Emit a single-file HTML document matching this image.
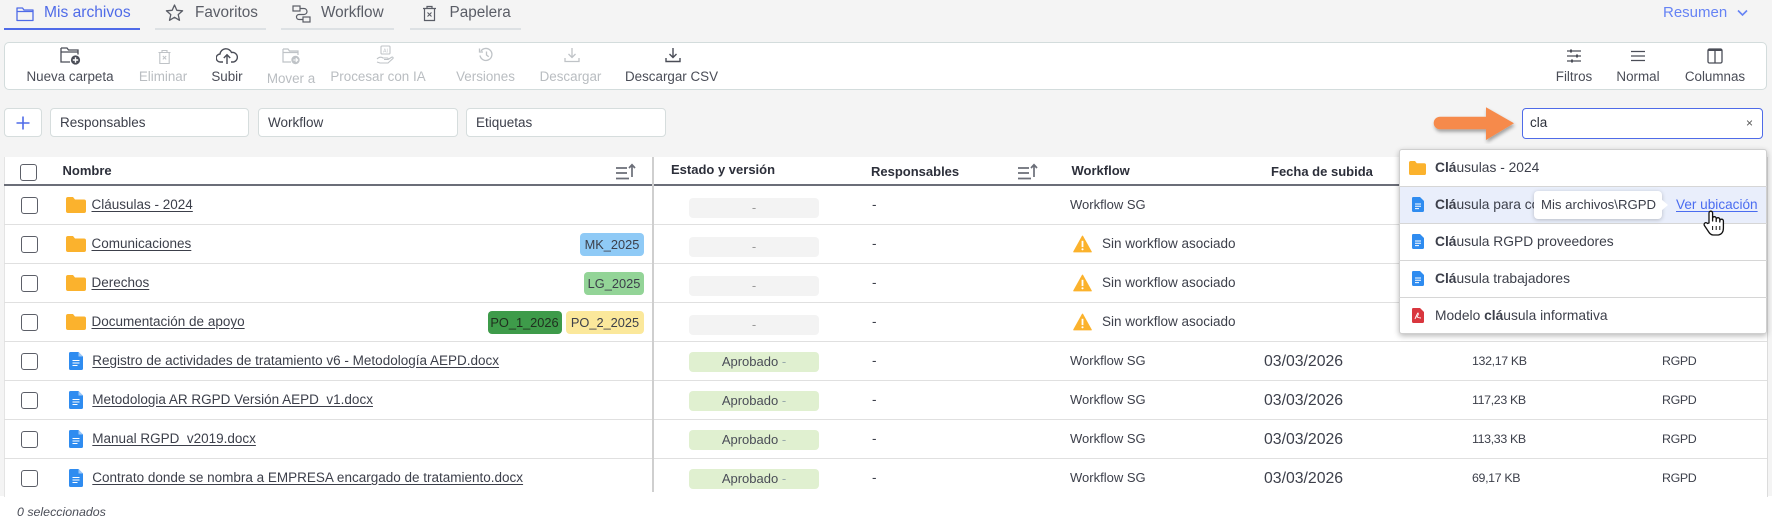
<!DOCTYPE html>
<html><head><meta charset="utf-8">
<style>
*{box-sizing:border-box;margin:0;padding:0}
body{width:1772px;height:531px;background:#f4f4f4;font-family:"Liberation Sans",Arial,sans-serif;color:#3c3f4a;position:relative;overflow:hidden}
.a{position:absolute;white-space:nowrap}
.t{position:absolute;white-space:nowrap;line-height:20px;height:20px}
.tab{font-size:15.3px;color:#5a5d66}
.ul{position:absolute;height:2px;background:#dde1e4;top:28px}
.lbl{position:absolute;width:140px;text-align:center;font-size:13.4px;line-height:20px;top:67px;color:#4a4d57}
.dis{color:#b9bdc1}
.fbox{position:absolute;top:108px;height:29px;background:#fff;border:1px solid #d6dddd;border-radius:4px;font-size:13.5px;line-height:27px;padding-left:9px;color:#3c3f4a}
.hd{font-weight:bold;font-size:13px;color:#2c2f3a}
.cb{position:absolute;width:17px;height:17px;border:1.5px solid #5c5f68;border-radius:3px;background:#fff}
.row{font-size:13.5px}
.lnk{text-decoration:underline;text-underline-offset:2px}
.hl{position:absolute;left:4px;width:1763px;height:1px;background:#e0e0e0}
.pill{position:absolute;left:689px;width:130px;height:20px;border-radius:4px;text-align:center;line-height:20px;font-size:13px}
.tag{position:absolute;height:23px;border-radius:4px;text-align:center;line-height:23px;font-size:12.8px;color:#3c3f4a}
.dd{position:absolute;left:1399px;width:368px;height:1px;background:#d6d6d6}
.di{font-size:13.8px;color:#3c3f4a}
.sz{font-size:12.4px;letter-spacing:-0.35px}
</style></head><body>

<!-- Tabs -->
<svg class="a" style="left:16px;top:6px" width="18" height="16" viewBox="0 0 18 16"><path d="M1 2 h5.5 l1.5 2 h9 v10.5 h-16z M1 5.5 h16" fill="none" stroke="#4f6be8" stroke-width="1.3" stroke-linejoin="round"/></svg>
<div class="t tab" style="left:44px;top:3px;font-size:15.6px;color:#4f6be8">Mis archivos</div>
<div class="ul" style="left:4px;width:136px;background:#4f6be8"></div>

<svg class="a" style="left:165px;top:4px" width="19" height="18" viewBox="0 0 19 18"><path d="M9.5 1 L11.8 6.3 L17.6 6.8 L13.2 10.6 L14.5 16.3 L9.5 13.3 L4.5 16.3 L5.8 10.6 L1.4 6.8 L7.2 6.3 Z" fill="none" stroke="#5a5d66" stroke-width="1.3" stroke-linejoin="round"/></svg>
<div class="t tab" style="left:195px;top:3px">Favoritos</div>
<div class="ul" style="left:155px;width:111px"></div>

<svg class="a" style="left:292px;top:5px" width="19" height="18" viewBox="0 0 19 18"><rect x="1" y="1" width="7" height="5" fill="none" stroke="#5a5d66" stroke-width="1.2"/><rect x="11" y="12" width="7" height="5" fill="none" stroke="#5a5d66" stroke-width="1.2"/><path d="M8 3.5 h4 a3 3 0 0 1 0 6 h-5 a2.5 2.5 0 0 0 0 5 h4" fill="none" stroke="#5a5d66" stroke-width="1.2"/></svg>
<div class="t tab" style="left:321px;top:3px">Workflow</div>
<div class="ul" style="left:281px;width:113px"></div>

<svg class="a" style="left:422px;top:5px" width="15" height="17" viewBox="0 0 15 17"><path d="M1 3.5 h13 M5 3.5 v-2 h5 v2 M2.5 3.5 v12 h10 v-12" fill="none" stroke="#5a5d66" stroke-width="1.2"/><path d="M5.5 7.5 l4 4 M9.5 7.5 l-4 4" stroke="#5a5d66" stroke-width="1.1"/></svg>
<div class="t tab" style="left:449.5px;top:3px">Papelera</div>
<div class="ul" style="left:410px;width:111px"></div>

<div class="t" style="left:1663px;top:3px;font-size:15px;color:#6683f4">Resumen</div>
<svg class="a" style="left:1737px;top:9px" width="11" height="8" viewBox="0 0 11 8"><path d="M1 1.5 L5.5 6 L10 1.5" fill="none" stroke="#6683f4" stroke-width="1.6"/></svg>

<!-- Toolbar -->
<div class="a" style="left:4px;top:42px;width:1763px;height:48px;background:#fff;border:1px solid #d3dcdc;border-radius:5px"></div>

<svg class="a" style="left:60px;top:46px" width="22" height="19" viewBox="0 0 22 19"><path d="M1 2 h6 l1.5 2 h9.5 v4.5 M1 2 v14 h9 M1 6 h17" fill="none" stroke="#4a4d57" stroke-width="1.3"/><circle cx="15.5" cy="14" r="4.6" fill="#4a4d57"/><path d="M15.5 11.3v5.4M12.8 14h5.4" stroke="#fff" stroke-width="1.4"/></svg>
<div class="lbl" style="left:0px">Nueva carpeta</div>

<svg class="a" style="left:158px;top:50px" width="13" height="14" viewBox="0 0 13 14"><path d="M0.5 2.5 h12 M4 2.5 v-2 h5 v2 M1.8 2.5 v11 h9.4 v-11" fill="none" stroke="#bfc3c7" stroke-width="1.1"/><path d="M4.8 6 l3.4 3.4 M8.2 6 l-3.4 3.4" stroke="#bfc3c7" stroke-width="1"/></svg>
<div class="lbl dis" style="left:93px">Eliminar</div>

<svg class="a" style="left:216px;top:47px" width="22" height="18" viewBox="0 0 22 18"><path d="M7 15 h-2.5 a4 4 0 0 1 -0.5 -8 a6 6 0 0 1 11.5 -1.5 a4.8 4.8 0 0 1 2 9.5 h-2.5" fill="none" stroke="#4a4d57" stroke-width="1.4"/><path d="M11 17 v-8.5 M7.8 11 L11 7.8 L14.2 11" fill="none" stroke="#4a4d57" stroke-width="1.4"/></svg>
<div class="lbl" style="left:157px">Subir</div>

<svg class="a" style="left:282px;top:47px" width="19" height="18" viewBox="0 0 19 18"><path d="M1 2 h5 l1.5 2 h8.5 v4 M1 2 v13 h8 M1 5.5 h15" fill="none" stroke="#bfc3c7" stroke-width="1.2"/><circle cx="13.5" cy="13" r="4.2" fill="#bfc3c7"/><path d="M11.3 13 h4.2 M13.8 11.2 l1.8 1.8 l-1.8 1.8" fill="none" stroke="#fff" stroke-width="1.1"/></svg>
<div class="lbl dis" style="left:221px;top:69px">Mover a</div>

<svg class="a" style="left:376px;top:45px" width="18" height="20" viewBox="0 0 18 20"><rect x="5" y="1" width="9" height="8" rx="1" fill="none" stroke="#bfc3c7" stroke-width="1.1"/><text x="9.5" y="7.3" font-size="5" text-anchor="middle" fill="#bfc3c7" font-family="Liberation Sans">AI</text><path d="M1 14 q3 -3 6 -1 h4 q1.5 0 1 1.5 h-4 M12 14.5 l4 -2.5 q1.5 0 1 1.5 l-5 4.5 h-8 l-3 -1" fill="none" stroke="#bfc3c7" stroke-width="1.1"/></svg>
<div class="lbl dis" style="left:308px">Procesar con IA</div>

<svg class="a" style="left:478px;top:47px" width="16" height="15" viewBox="0 0 16 15"><path d="M3 4 a6 6 0 1 1 -1 4.5" fill="none" stroke="#bfc3c7" stroke-width="1.3"/><path d="M1.5 1.5 v3.5 h3.5" fill="none" stroke="#bfc3c7" stroke-width="1.3"/><path d="M8.5 4.5 v3.5 l2.2 1.8" fill="none" stroke="#bfc3c7" stroke-width="1.3"/></svg>
<div class="lbl dis" style="left:415.5px">Versiones</div>

<svg class="a" style="left:564px;top:47px" width="16" height="16" viewBox="0 0 16 16"><path d="M8 1 v9.5 M4.5 7 L8 10.5 L11.5 7 M1 11 v3.5 h14 v-3.5" fill="none" stroke="#bfc3c7" stroke-width="1.3"/></svg>
<div class="lbl dis" style="left:500.5px">Descargar</div>

<svg class="a" style="left:665px;top:47px" width="16" height="16" viewBox="0 0 16 16"><path d="M8 1 v9.5 M4.5 7 L8 10.5 L11.5 7 M1 11 v3.5 h14 v-3.5" fill="none" stroke="#4a4d57" stroke-width="1.4"/></svg>
<div class="lbl" style="left:601.5px">Descargar CSV</div>

<svg class="a" style="left:1566px;top:48px" width="16" height="16" viewBox="0 0 16 16"><path d="M1 3 h14 M1 8 h14 M1 13 h14" stroke="#4a4d57" stroke-width="1.2"/><rect x="4" y="1.5" width="2" height="3" fill="#4a4d57"/><rect x="10" y="6.5" width="2" height="3" fill="#4a4d57"/><rect x="5" y="11.5" width="2" height="3" fill="#4a4d57"/></svg>
<div class="lbl" style="left:1504px">Filtros</div>

<svg class="a" style="left:1630px;top:50px" width="16" height="12" viewBox="0 0 16 12"><path d="M1 1.5 h14 M1 6 h14 M1 10.5 h14" stroke="#4a4d57" stroke-width="1.3"/></svg>
<div class="lbl" style="left:1568px">Normal</div>

<svg class="a" style="left:1707px;top:48px" width="16" height="16" viewBox="0 0 16 16"><rect x="1" y="1" width="14" height="14" rx="1.5" fill="none" stroke="#4a4d57" stroke-width="1.3"/><path d="M1 2 h14" stroke="#4a4d57" stroke-width="2"/><path d="M8 1 v14" stroke="#4a4d57" stroke-width="1.3"/></svg>
<div class="lbl" style="left:1645px">Columnas</div>

<!-- Filters row -->
<div class="a" style="left:4px;top:108px;width:38px;height:29px;background:#fff;border:1px solid #d6dddd;border-radius:4px"></div>
<svg class="a" style="left:16px;top:116px" width="14" height="14" viewBox="0 0 14 14"><path d="M7 0.5 v13 M0.5 7 h13" stroke="#4f6be8" stroke-width="1.6"/></svg>
<div class="fbox" style="left:50px;width:199px">Responsables</div>
<div class="fbox" style="left:258px;width:200px">Workflow</div>
<div class="fbox" style="left:466px;width:200px">Etiquetas</div>

<div class="a" style="left:1522px;top:108px;width:241px;height:31px;background:#fff;border:1px solid #4f6be8;border-radius:4px"></div>
<div class="t" style="left:1530px;top:113px;font-size:13.5px;color:#2c2f3a">cla</div>
<div class="t" style="left:1746px;top:113px;font-size:12px;color:#555">×</div>

<!-- Orange arrow -->
<svg class="a" style="left:1428px;top:102px" width="94" height="42" viewBox="0 0 94 42">
<defs><filter id="sh" x="-20%" y="-30%" width="140%" height="170%"><feDropShadow dx="1" dy="2.5" stdDeviation="1.8" flood-color="#000" flood-opacity="0.35"/></filter></defs>
<g filter="url(#sh)"><path d="M12 14.7 h46 v-9.4 L86 21.3 L58 38 v-10.7 h-46 a5.3 5.3 0 0 1 0 -12.6z" fill="#f68a4b"/></g></svg>

<!-- Footer white -->
<div class="a" style="left:0;top:496px;width:1772px;height:35px;background:#fff"></div>

<!-- Table -->
<div class="a" style="left:4px;top:157px;width:1764px;height:340px;background:#fff;border-left:1px solid #e4e4e4;border-right:1px solid #dcdcdc"></div>
<div class="a" style="left:4px;top:184px;width:1763px;height:1.5px;background:#6b6e78"></div>
<div class="hl" style="top:224px"></div>
<div class="hl" style="top:263px"></div>
<div class="hl" style="top:302px"></div>
<div class="hl" style="top:341px"></div>
<div class="hl" style="top:380px"></div>
<div class="hl" style="top:419px"></div>
<div class="hl" style="top:458px"></div>
<div class="a" style="left:652px;top:157px;width:2px;height:335px;background:#cfcfcf"></div>

<!-- header -->
<div class="cb" style="left:20px;top:164px"></div>
<div class="t hd" style="left:62.5px;top:161px">Nombre</div>
<svg class="a" style="left:615px;top:163px" width="21" height="18" viewBox="0 0 21 18"><path d="M1 5 h11 M1 10 h11 M1 15.5 h13" stroke="#6b6e78" stroke-width="1.8"/><path d="M17 14 v-12 M14 5 L17 1.8 L20 5" fill="none" stroke="#6b6e78" stroke-width="1.7"/></svg>
<div class="t hd" style="left:671px;top:160px">Estado y versión</div>
<div class="t hd" style="left:871px;top:162px">Responsables</div>
<svg class="a" style="left:1017px;top:163px" width="21" height="18" viewBox="0 0 21 18"><path d="M1 5 h11 M1 10 h11 M1 15.5 h13" stroke="#6b6e78" stroke-width="1.8"/><path d="M17 14 v-12 M14 5 L17 1.8 L20 5" fill="none" stroke="#6b6e78" stroke-width="1.7"/></svg>
<div class="t hd" style="left:1071.5px;top:161px">Workflow</div>
<div class="t hd" style="left:1271px;top:162px">Fecha de subida</div>

<!-- rows 1-4 folders -->
<div class="cb" style="left:21px;top:196.5px"></div>
<svg class="a" style="left:66px;top:197px" width="20" height="16" viewBox="0 0 20 16"><path d="M0 2 a2 2 0 0 1 2 -2 h5 l2 2.5 h9 a2 2 0 0 1 2 2 v9.5 a2 2 0 0 1 -2 2 h-16 a2 2 0 0 1 -2 -2z" fill="#fbb22d"/></svg>
<div class="t row lnk" style="left:91.5px;top:195px">Cláusulas - 2024</div>
<div class="pill" style="top:198px;background:#f3f3f3;color:#999">-</div>
<div class="t row" style="left:872px;top:195px">-</div>
<div class="t" style="left:1070px;top:195px;font-size:13px">Workflow SG</div>

<div class="cb" style="left:21px;top:235.5px"></div>
<svg class="a" style="left:66px;top:236px" width="20" height="16" viewBox="0 0 20 16"><path d="M0 2 a2 2 0 0 1 2 -2 h5 l2 2.5 h9 a2 2 0 0 1 2 2 v9.5 a2 2 0 0 1 -2 2 h-16 a2 2 0 0 1 -2 -2z" fill="#fbb22d"/></svg>
<div class="t row lnk" style="left:91.5px;top:234px">Comunicaciones</div>
<div class="tag" style="left:580px;top:233px;width:64px;background:#8fcaf6">MK_2025</div>
<div class="pill" style="top:237px;background:#f3f3f3;color:#999">-</div>
<div class="t row" style="left:872px;top:234px">-</div>
<svg class="a" style="left:1073px;top:235px" width="19" height="18" viewBox="0 0 19 18"><path d="M9.5 1.2 L18.2 16.8 H0.8 Z" fill="#fbb22d" stroke="#fbb22d" stroke-width="1.2" stroke-linejoin="round"/><rect x="8.6" y="5.8" width="1.8" height="6.3" fill="#fff"/><circle cx="9.5" cy="14.3" r="1.05" fill="#fff"/></svg>
<div class="t row" style="left:1102px;top:234px">Sin workflow asociado</div>

<div class="cb" style="left:21px;top:274.5px"></div>
<svg class="a" style="left:66px;top:275px" width="20" height="16" viewBox="0 0 20 16"><path d="M0 2 a2 2 0 0 1 2 -2 h5 l2 2.5 h9 a2 2 0 0 1 2 2 v9.5 a2 2 0 0 1 -2 2 h-16 a2 2 0 0 1 -2 -2z" fill="#fbb22d"/></svg>
<div class="t row lnk" style="left:91.5px;top:273px">Derechos</div>
<div class="tag" style="left:584px;top:272px;width:60px;background:#93d497">LG_2025</div>
<div class="pill" style="top:276px;background:#f3f3f3;color:#999">-</div>
<div class="t row" style="left:872px;top:273px">-</div>
<svg class="a" style="left:1073px;top:274px" width="19" height="18" viewBox="0 0 19 18"><path d="M9.5 1.2 L18.2 16.8 H0.8 Z" fill="#fbb22d" stroke="#fbb22d" stroke-width="1.2" stroke-linejoin="round"/><rect x="8.6" y="5.8" width="1.8" height="6.3" fill="#fff"/><circle cx="9.5" cy="14.3" r="1.05" fill="#fff"/></svg>
<div class="t row" style="left:1102px;top:273px">Sin workflow asociado</div>

<div class="cb" style="left:21px;top:313.5px"></div>
<svg class="a" style="left:66px;top:314px" width="20" height="16" viewBox="0 0 20 16"><path d="M0 2 a2 2 0 0 1 2 -2 h5 l2 2.5 h9 a2 2 0 0 1 2 2 v9.5 a2 2 0 0 1 -2 2 h-16 a2 2 0 0 1 -2 -2z" fill="#fbb22d"/></svg>
<div class="t row lnk" style="left:91.5px;top:312px">Documentación de apoyo</div>
<div class="tag" style="left:487.5px;top:311px;width:74px;background:#3e9b4a;color:#20301f">PO_1_2026</div>
<div class="tag" style="left:566px;top:311px;width:78px;background:#fbe89b">PO_2_2025</div>
<div class="pill" style="top:315px;background:#f3f3f3;color:#999">-</div>
<div class="t row" style="left:872px;top:312px">-</div>
<svg class="a" style="left:1073px;top:313px" width="19" height="18" viewBox="0 0 19 18"><path d="M9.5 1.2 L18.2 16.8 H0.8 Z" fill="#fbb22d" stroke="#fbb22d" stroke-width="1.2" stroke-linejoin="round"/><rect x="8.6" y="5.8" width="1.8" height="6.3" fill="#fff"/><circle cx="9.5" cy="14.3" r="1.05" fill="#fff"/></svg>
<div class="t row" style="left:1102px;top:312px">Sin workflow asociado</div>

<!-- rows 5-8 docs -->
<div class="cb" style="left:21px;top:352.5px"></div>
<svg class="a" style="left:69px;top:352px" width="14" height="18" viewBox="0 0 14 18"><path d="M1.5 0 h8 l4.5 4.5 v12 a1.5 1.5 0 0 1 -1.5 1.5 h-11 a1.5 1.5 0 0 1 -1.5 -1.5 v-15 a1.5 1.5 0 0 1 1.5 -1.5z" fill="#2f8cf0"/><path d="M9.5 0 v4.5 h4.5z" fill="#9cc8f8"/><path d="M3.5 8.5 h7 M3.5 11 h7 M3.5 13.5 h5" stroke="#fff" stroke-width="1.1"/></svg>
<div class="t row lnk" style="left:92.3px;top:351px">Registro de actividades de tratamiento v6 - Metodología AEPD.docx</div>
<div class="pill" style="top:352px;background:#e0f0d0;color:#4a4d57">Aprobado <span style="color:#9aa">-</span></div>
<div class="t row" style="left:872px;top:351px">-</div>
<div class="t" style="left:1070px;top:351px;font-size:13px">Workflow SG</div>
<div class="t" style="left:1264px;top:352px;font-size:15.8px">03/03/2026</div>
<div class="t sz" style="left:1472px;top:351px">132,17 KB</div>
<div class="t sz" style="left:1662px;top:351px">RGPD</div>

<div class="cb" style="left:21px;top:391.5px"></div>
<svg class="a" style="left:69px;top:391px" width="14" height="18" viewBox="0 0 14 18"><path d="M1.5 0 h8 l4.5 4.5 v12 a1.5 1.5 0 0 1 -1.5 1.5 h-11 a1.5 1.5 0 0 1 -1.5 -1.5 v-15 a1.5 1.5 0 0 1 1.5 -1.5z" fill="#2f8cf0"/><path d="M9.5 0 v4.5 h4.5z" fill="#9cc8f8"/><path d="M3.5 8.5 h7 M3.5 11 h7 M3.5 13.5 h5" stroke="#fff" stroke-width="1.1"/></svg>
<div class="t row lnk" style="left:92.3px;top:390px">Metodologia AR RGPD Versión AEPD_v1.docx</div>
<div class="pill" style="top:391px;background:#e0f0d0;color:#4a4d57">Aprobado <span style="color:#9aa">-</span></div>
<div class="t row" style="left:872px;top:390px">-</div>
<div class="t" style="left:1070px;top:390px;font-size:13px">Workflow SG</div>
<div class="t" style="left:1264px;top:391px;font-size:15.8px">03/03/2026</div>
<div class="t sz" style="left:1472px;top:390px">117,23 KB</div>
<div class="t sz" style="left:1662px;top:390px">RGPD</div>

<div class="cb" style="left:21px;top:430.5px"></div>
<svg class="a" style="left:69px;top:430px" width="14" height="18" viewBox="0 0 14 18"><path d="M1.5 0 h8 l4.5 4.5 v12 a1.5 1.5 0 0 1 -1.5 1.5 h-11 a1.5 1.5 0 0 1 -1.5 -1.5 v-15 a1.5 1.5 0 0 1 1.5 -1.5z" fill="#2f8cf0"/><path d="M9.5 0 v4.5 h4.5z" fill="#9cc8f8"/><path d="M3.5 8.5 h7 M3.5 11 h7 M3.5 13.5 h5" stroke="#fff" stroke-width="1.1"/></svg>
<div class="t row lnk" style="left:92.3px;top:429px">Manual RGPD_v2019.docx</div>
<div class="pill" style="top:430px;background:#e0f0d0;color:#4a4d57">Aprobado <span style="color:#9aa">-</span></div>
<div class="t row" style="left:872px;top:429px">-</div>
<div class="t" style="left:1070px;top:429px;font-size:13px">Workflow SG</div>
<div class="t" style="left:1264px;top:430px;font-size:15.8px">03/03/2026</div>
<div class="t sz" style="left:1472px;top:429px">113,33 KB</div>
<div class="t sz" style="left:1662px;top:429px">RGPD</div>

<div class="cb" style="left:21px;top:469.5px"></div>
<svg class="a" style="left:69px;top:469px" width="14" height="18" viewBox="0 0 14 18"><path d="M1.5 0 h8 l4.5 4.5 v12 a1.5 1.5 0 0 1 -1.5 1.5 h-11 a1.5 1.5 0 0 1 -1.5 -1.5 v-15 a1.5 1.5 0 0 1 1.5 -1.5z" fill="#2f8cf0"/><path d="M9.5 0 v4.5 h4.5z" fill="#9cc8f8"/><path d="M3.5 8.5 h7 M3.5 11 h7 M3.5 13.5 h5" stroke="#fff" stroke-width="1.1"/></svg>
<div class="t row lnk" style="left:92.3px;top:468px">Contrato donde se nombra a EMPRESA encargado de tratamiento.docx</div>
<div class="pill" style="top:469px;background:#e0f0d0;color:#4a4d57">Aprobado <span style="color:#9aa">-</span></div>
<div class="t row" style="left:872px;top:468px">-</div>
<div class="t" style="left:1070px;top:468px;font-size:13px">Workflow SG</div>
<div class="t" style="left:1264px;top:469px;font-size:15.8px">03/03/2026</div>
<div class="t sz" style="left:1472px;top:468px">69,17 KB</div>
<div class="t sz" style="left:1662px;top:468px">RGPD</div>

<div class="t" style="left:17px;top:502px;font-size:12.4px;font-style:italic;color:#4a4d57">0 seleccionados</div>

<!-- Dropdown -->
<div class="a" style="left:1399px;top:149px;width:368px;height:185px;background:#fff;border:1px solid #cfcfcf;border-radius:3px;box-shadow:0 2px 6px rgba(0,0,0,.28)"></div>
<div class="a" style="left:1400px;top:187px;width:366px;height:36px;background:#e9eefb"></div>
<div class="dd" style="top:186px"></div>
<div class="dd" style="top:223px"></div>
<div class="dd" style="top:260px"></div>
<div class="dd" style="top:297px"></div>

<svg class="a" style="left:1409px;top:161px" width="17" height="14" viewBox="0 0 17 14"><path d="M0 1.8 a1.8 1.8 0 0 1 1.8 -1.8 h4.2 l1.8 2.2 h7.4 a1.8 1.8 0 0 1 1.8 1.8 v8.2 a1.8 1.8 0 0 1 -1.8 1.8 h-13.4 a1.8 1.8 0 0 1 -1.8 -1.8z" fill="#fbb22d"/></svg>
<div class="t di" style="left:1435px;top:158px"><b>Clá</b>usulas - 2024</div>

<svg class="a" style="left:1412px;top:197px" width="12" height="15" viewBox="0 0 12 15"><path d="M1.2 0 h6.8 l4 4 v9.8 a1.2 1.2 0 0 1 -1.2 1.2 h-9.6 a1.2 1.2 0 0 1 -1.2 -1.2 v-12.6 a1.2 1.2 0 0 1 1.2 -1.2z" fill="#2f8cf0"/><path d="M3 7 h6 M3 9.3 h6 M3 11.6 h4" stroke="#fff" stroke-width="1"/></svg>
<div class="t di" style="left:1435px;top:195px"><b>Clá</b>usula para co</div>
<div class="a" style="left:1534px;top:191px;width:128px;height:28px;background:#fff;border-radius:4px;box-shadow:0 1px 4px rgba(0,0,0,.22)"></div>
<svg class="a" style="left:1661px;top:199px" width="8" height="12" viewBox="0 0 8 12"><path d="M0 0 L7 6 L0 12z" fill="#fff"/></svg>
<div class="t" style="left:1541px;top:195px;font-size:13.2px;color:#3c3f4a">Mis archivos\RGPD</div>
<div class="t lnk" style="left:1676px;top:195px;font-size:13.6px;color:#4a6cf0">Ver ubicación</div>
<svg class="a" style="left:1703px;top:209px" width="22" height="28" viewBox="0 0 22 28"><path d="M6 14 V4 a1.8 1.8 0 0 1 3.6 0 V12 V9.5 a1.8 1.8 0 0 1 3.6 0 V12.5 V10.5 a1.8 1.8 0 0 1 3.6 0 V13 V12 a1.8 1.8 0 0 1 3.6 0 V19 q0 6 -5 7 h-5 q-3 0 -5 -3.5 l-4 -6 a1.8 1.8 0 0 1 3 -2z" fill="#fff" stroke="#111" stroke-width="1.3" stroke-linejoin="round"/><path d="M9.6 17 v4 M13.2 17 v4 M16.8 17 v4" stroke="#111" stroke-width="1"/></svg>

<svg class="a" style="left:1412px;top:234px" width="12" height="15" viewBox="0 0 12 15"><path d="M1.2 0 h6.8 l4 4 v9.8 a1.2 1.2 0 0 1 -1.2 1.2 h-9.6 a1.2 1.2 0 0 1 -1.2 -1.2 v-12.6 a1.2 1.2 0 0 1 1.2 -1.2z" fill="#2f8cf0"/><path d="M3 7 h6 M3 9.3 h6 M3 11.6 h4" stroke="#fff" stroke-width="1"/></svg>
<div class="t di" style="left:1435px;top:232px"><b>Clá</b>usula RGPD proveedores</div>

<svg class="a" style="left:1412px;top:271px" width="12" height="15" viewBox="0 0 12 15"><path d="M1.2 0 h6.8 l4 4 v9.8 a1.2 1.2 0 0 1 -1.2 1.2 h-9.6 a1.2 1.2 0 0 1 -1.2 -1.2 v-12.6 a1.2 1.2 0 0 1 1.2 -1.2z" fill="#2f8cf0"/><path d="M3 7 h6 M3 9.3 h6 M3 11.6 h4" stroke="#fff" stroke-width="1"/></svg>
<div class="t di" style="left:1435px;top:269px"><b>Clá</b>usula trabajadores</div>

<svg class="a" style="left:1412px;top:308px" width="12" height="15" viewBox="0 0 12 15"><path d="M1.2 0 h6.8 l4 4 v9.8 a1.2 1.2 0 0 1 -1.2 1.2 h-9.6 a1.2 1.2 0 0 1 -1.2 -1.2 v-12.6 a1.2 1.2 0 0 1 1.2 -1.2z" fill="#d9363e"/><path d="M3 11 q2 -5 3 -6 q1 1 -1 4 q2 1 4 1" fill="none" stroke="#fff" stroke-width="0.9"/></svg>
<div class="t di" style="left:1435px;top:306px">Modelo <b>clá</b>usula informativa</div>

</body></html>
